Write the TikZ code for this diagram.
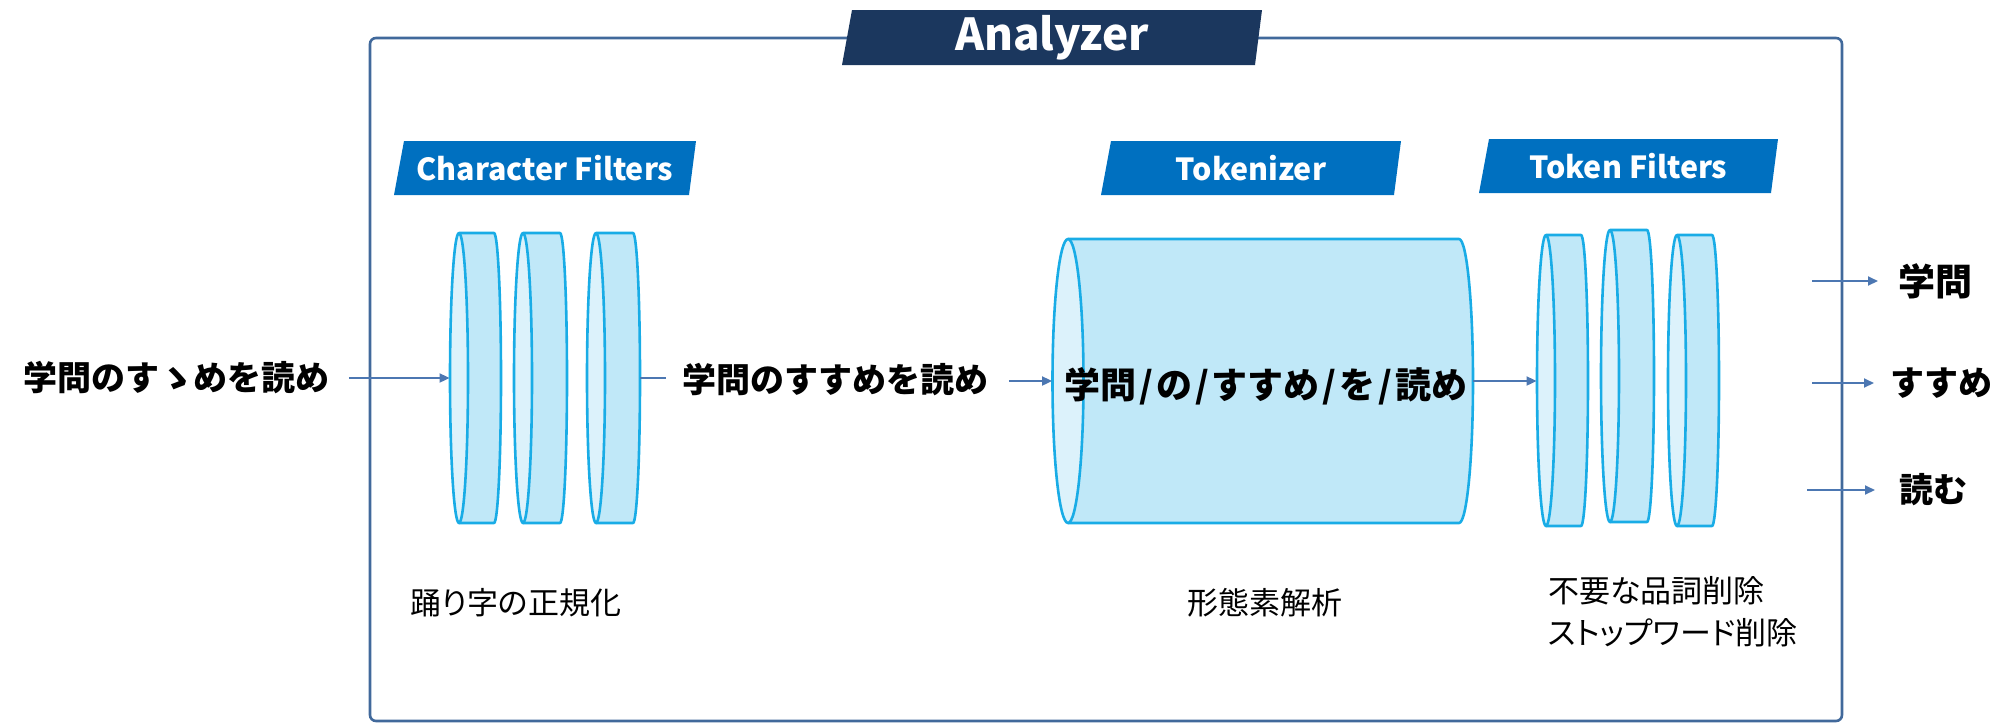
\documentclass[tikz,border=0pt]{standalone}
\usepackage{fontspec}
\setmainfont{Noto Sans CJK JP}
\newfontfamily\notefont[RawFeature=+palt]{Noto Sans CJK JP}
\usetikzlibrary{arrows.meta,fit}

\definecolor{frameblue}{HTML}{41699B}
\definecolor{navy}{HTML}{1B375E}
\definecolor{tabblue}{HTML}{0070C0}
\definecolor{cyanline}{HTML}{19ACE6}
\definecolor{cylbody}{HTML}{C0E8F8}
\definecolor{cylface}{HTML}{DCF2FB}
\definecolor{arrowblue}{HTML}{4C77B2}

% a can lying on its side: front face (full ellipse) on the left, back rim on the right
% #1 name, #2 front centre x, #3 back centre x, #4 top y, #5 bottom y, #6 front radius, #7 back radius
\newcommand\filtercan[7]{%
  \pgfmathsetmacro\canmid{(#4+#5)/2}%
  \pgfmathsetmacro\canhalf{(#5-#4)/2}%
  \filldraw[canline, fill=cylbody] (#2,#4) -- (#3,#4)
    arc[start angle=-90, end angle=90, x radius=#7, y radius=\canhalf] -- (#2,#5) -- cycle;
  \filldraw[canline, fill=cylface] (#2,\canmid) ellipse [x radius=#6, y radius=\canhalf];
  \node[fit={(#2-#6,#4)(#3+#7,#5)}, inner sep=0pt] (#1) {};
}

% slanted title tab: #1 name, #2 left x, #3 right x, #4 top y, #5 bottom y, #6 colour, #7 font size, #8 text
\newcommand\titletab[8]{%
  \fill[#6] (#2+10,#4) -- (#3,#4) -- (#3-7,#5) -- (#2,#5) -- cycle;
  \node[tabtext, font=\bfseries\fontsize{#7}{#7}\selectfont] (#1) at ({(#2+#3)/2},{(#4+#5)/2}) {#8};
}

% token separator with a little air around it
\newcommand\tokensep{\kern1.5pt/\kern1.5pt}

\begin{document}
\begin{tikzpicture}[x=0.5pt, y=-0.5pt,
  frame/.style={draw=frameblue, line width=1.3pt, rounded corners=3pt, inner sep=0pt},
  canline/.style={draw=cyanline, line width=1.3pt, line join=round},
  tabtext/.style={text=white, inner sep=0pt},
  word/.style={font=\bfseries\fontsize{17}{20}\selectfont, inner sep=0pt},
  note/.style={font=\notefont\fontsize{15.5}{21}\selectfont, inner sep=0pt, align=left},
  arr/.style={draw=arrowblue, line width=0.9pt, -{Triangle[length=5pt,width=4.5pt]}},
  link/.style={draw=arrowblue, line width=0.9pt}]
\useasboundingbox (0,0) rectangle (2015,725);

% analyzer frame and its title
\node[frame, fit={(370,38)(1842,721)}] (analyzer) {};
\titletab{antitle}{842}{1262}{10}{65}{navy}{22}{Analyzer}

% stage titles
\titletab{cftitle}{394}{696}{141}{195}{tabblue}{15.2}{Character Filters}
\titletab{toktitle}{1101}{1401}{141}{195}{tabblue}{15.2}{Tokenizer}
\titletab{tftitle}{1479}{1778}{139}{193}{tabblue}{15.2}{Token Filters}

% character filters
\filtercan{cf1}{459}{494}{233}{523}{9}{7}
\filtercan{cf2}{523}{560}{233}{523}{9}{7}
\filtercan{cf3}{596}{633}{233}{523}{9}{7}

% tokenizer
\filtercan{tok}{1068}{1459}{239}{523}{15.5}{14}

% token filters
\filtercan{tf1}{1546}{1581}{235}{526}{9}{7}
\filtercan{tf2}{1610}{1647}{230}{522}{9}{7}
\filtercan{tf3}{1677}{1712}{235}{526}{9}{7}

% texts flowing through
\node[word, anchor=west] (src) at (23,378) {学問のすゝめを読め};
\node[word, anchor=west] (mid) at (682,380) {学問のすすめを読め};
\node[word, font=\bfseries\fontsize{18}{20}\selectfont] (tokens) at (1266,386)
  {学問\tokensep の\tokensep すすめ\tokensep を\tokensep 読め};
\node[word, anchor=west, font=\bfseries\fontsize{18.5}{20}\selectfont] (w1) at (1898,281) {学問};
\node[word, anchor=west] (w2) at (1890,383) {すすめ};
\node[word, anchor=west] (w3) at (1899,490) {読む};

% stage notes
\node[note] (cfnote) at (516,603) {踊り字の正規化};
\node[note] (toknote) at (1265,603) {形態素解析};
\node[note, anchor=west] (tfnote) at (1548,612) {不要な品詞削除\\ストップワード削除};

% connectors
\draw[arr, shorten <=9.5pt] (src.east |- cf1.west) -- (cf1.west);
\draw[link, shorten >=8pt] (cf3.east) -- (cf3.east -| mid.west);
\draw[arr, shorten <=10pt] (mid.east |- tok.west) -- (tok.west);
\draw[arr] (tok.east) -- (tok.east -| tf1.west);

\coordinate (o1) at (1812,281);
\coordinate (o2) at (1812,383);
\coordinate (o3) at (1807,490);
\draw[arr, shorten >=10pt] (o1) -- (o1 -| w1.west);
\draw[arr, shorten >=8pt] (o2) -- (o2 -| w2.west);
\draw[arr, shorten >=12pt] (o3) -- (o3 -| w3.west);
\end{tikzpicture}
\end{document}
